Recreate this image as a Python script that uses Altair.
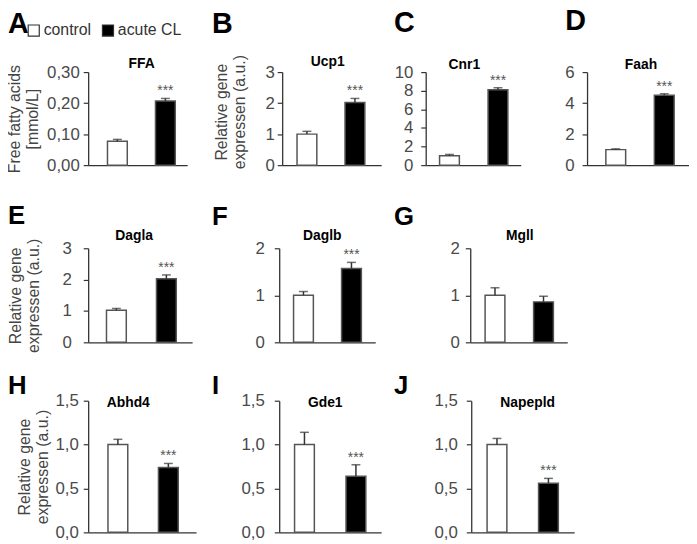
import altair as alt
import pandas as pd

# ---------------- data ----------------
letters = ["A", "B", "C", "D", "E", "F", "G", "H", "I", "J"]
genes = ["FFA", "Ucp1", "Cnr1", "Faah", "Dagla", "Daglb", "Mgll", "Abhd4", "Gde1", "Napepld"]
groups = ["control", "acute CL"]
control_mean = [0.077, 1.0, 1.0, 1.0, 1.02, 1.0, 1.0, 1.0, 1.0, 1.0]
control_sem = [0.006, 0.09, 0.15, 0.05, 0.06, 0.08, 0.16, 0.06, 0.14, 0.07]
acute_mean = [0.207, 2.02, 8.1, 4.5, 2.03, 1.57, 0.86, 0.74, 0.64, 0.56]
acute_sem = [0.008, 0.13, 0.22, 0.1, 0.12, 0.13, 0.12, 0.045, 0.13, 0.055]
significance = ["***", "***", "***", "***", "***", "***", "", "***", "***", "***"]
y_max = [0.3, 3, 10, 6, 3, 2, 2, 1.5, 1.5, 1.5]
y_ticks = [[0, 0.1, 0.2, 0.3], [0, 1, 2, 3], [0, 2, 4, 6, 8, 10], [0, 2, 4, 6],
           [0, 1, 2, 3], [0, 1, 2], [0, 1, 2],
           [0, 0.5, 1.0, 1.5], [0, 0.5, 1.0, 1.5], [0, 0.5, 1.0, 1.5]]
tick_decimals = [2, 0, 0, 0, 0, 0, 0, 1, 1, 1]
gene_title = ["Relative gene", "expressen (a.u.)"]
y_titles = [["Free fatty acids", "[mmol/L]"], gene_title, None, None,
            gene_title, None, None, gene_title, None, None]

# ---------------- layout (styling only) ----------------
FONT = "Liberation Sans"
row_h = [94, 95, 133]
panel_row = [0, 0, 0, 0, 1, 1, 1, 2, 2, 2]
panel_w = [100, 100, 96, 103, 105, 97, 98, 109, 103, 104]
bar_c1 = [29.5, 25, 24, 29, 28.5, 24.5, 25, 30, 25.5, 26]
bar_step = [48.5, 48.5, 49, 49, 50.5, 48.5, 49, 51, 52, 52]
label_pad = [4, 3, 8, 8, 12, 10, 6, 5, 10, 9]
title_dx = [4, -4, -9, 3, -6, -5, 1, -14, -5, 5]
title_base = [-4, -6, -3, -3, -8, -8, -8, 6, 6, 6]
letter_size = [29, 29, 29, 29, 26, 26, 26, 26, 26, 26]
letter_xy = [(-81, -39), (-71, -39), (-32, -41), (-22, -43),
             (-81, -25), (-68, -24), (-77, -24),
             (-81, -7), (-68, -7), (-78, -7)]
ytitle_x = [-66, -53, None, None, -65, None, None, -56, None, None]
ytitle_dy = [0, -7, 0, 0, 0, 0, 0, 0, 0, 0]
row_gaps = [[96, 45, 67], [88, 96], [84, 91]]
vgaps = [84, 59]


def panel(i):
    h = row_h[panel_row[i]]
    w = panel_w[i]
    x0 = 1 - bar_c1[i] / bar_step[i]
    x1 = x0 + w / bar_step[i]
    df = pd.DataFrame({
        "group": groups,
        "pos": [1, 2],
        "mean": [control_mean[i], acute_mean[i]],
        "top": [control_mean[i] + control_sem[i], acute_mean[i] + acute_sem[i]],
        "sig": ["", significance[i]],
    })
    d = tick_decimals[i]
    ax = dict(values=y_ticks[i], grid=False, domainColor="#333", domainWidth=1.3,
              tickColor="#333", tickSize=5, tickWidth=1.2, tickCount=len(y_ticks[i]),
              labelFontSize=17, labelColor="#4a4a4a", labelFont=FONT,
              labelPadding=label_pad[i],
              labelOverlap=False, labelBound=False, labelFlush=False,
              labelExpr=f"replace(format(datum.value, '.{d}f'), '.', ',')")
    if y_titles[i] is not None:
        ax.update(title=y_titles[i], titleFont=FONT, titleFontSize=16,
                  titleFontWeight="normal", titleColor="#444",
                  titleX=ytitle_x[i], titleY=h / 2 + ytitle_dy[i], titleAngle=270,
                  titleAlign="center", titleBaseline="bottom")
    else:
        ax.update(title=None)
    y_axis = alt.Axis(**ax)
    y_scale = alt.Scale(domain=[0, y_max[i]], nice=False, padding=0)
    x_axis = alt.Axis(labels=False, ticks=False, title=None, grid=False,
                      domainColor="#333", domainWidth=1.3)
    x_scale = alt.Scale(domain=[x0, x1], nice=False, zero=False, padding=0)
    xs = alt.X("pos:Q", scale=x_scale, axis=x_axis)

    def yy(field):
        return alt.Y(f"{field}:Q", scale=y_scale, axis=y_axis)

    if i == 0:
        leg = alt.Legend(orient="none", legendX=-63, legendY=-50, direction="horizontal",
                         title=None, symbolType="square", symbolSize=125,
                         symbolStrokeColor="#333", symbolStrokeWidth=1.2,
                         labelFontSize=16, labelColor="#333", labelFont=FONT,
                         columnPadding=8, labelOffset=2, padding=0)
    else:
        leg = None
    base = alt.Chart(df)
    bars = base.mark_bar(orient="vertical", size=20, stroke="#555", strokeWidth=1.5).encode(
        x=xs, y=yy("mean"),
        fill=alt.Fill("group:N", scale=alt.Scale(domain=groups, range=["white", "black"]),
                      legend=leg))
    err = base.mark_rule(color="#333", strokeWidth=1.5).encode(
        x=xs, y=yy("mean"), y2="top:Q")
    cap = base.mark_tick(orient="horizontal", size=9, thickness=1.5, color="#333").encode(
        x=xs, y=yy("top"))
    stars = base.mark_text(dy=-3, baseline="alphabetic", fontSize=14, color="#555",
                           font=FONT).encode(x=xs, y=yy("top"), text="sig:N")
    lab = pd.DataFrame({"letter": [letters[i]], "gene": [genes[i]]})
    lx, ly = letter_xy[i]
    letter = alt.Chart(lab).mark_text(
        align="left", baseline="alphabetic", fontSize=letter_size[i], fontWeight="bold",
        font=FONT, color="black").encode(text="letter:N", x=alt.value(lx), y=alt.value(ly))
    gname = alt.Chart(lab).mark_text(
        align="center", baseline="alphabetic", fontSize=14, fontWeight="bold",
        font=FONT, color="black").encode(text="gene:N", x=alt.value(w / 2 + title_dx[i]),
                                         y=alt.value(title_base[i]))
    return alt.layer(bars, err, cap, stars, letter, gname).properties(width=w, height=h)


def spacer(w, h):
    return alt.Chart(pd.DataFrame({"s": [0]})).mark_point(opacity=0).properties(width=w, height=h)


rows = []
idx = 0
for r, gaps in enumerate(row_gaps):
    items = []
    n = len(gaps) + 1
    for k in range(n):
        items.append(panel(idx))
        idx += 1
        if k < len(gaps):
            items.append(spacer(gaps[k], row_h[r]))
    rows.append(alt.hconcat(*items, spacing=0, bounds="flush"))

# nested rows report no height in flush mode, so the spacers carry the row height too
vitems = [rows[0], spacer(10, row_h[0] + vgaps[0]), rows[1],
          spacer(10, row_h[1] + vgaps[1]), rows[2]]
chart = alt.vconcat(*vitems, spacing=0, bounds="flush").configure_view(stroke=None).properties(
    padding={"left": -2, "top": -4, "right": 0, "bottom": 0})

chart.save("out.html", embed_options={"renderer": "svg", "actions": False})
